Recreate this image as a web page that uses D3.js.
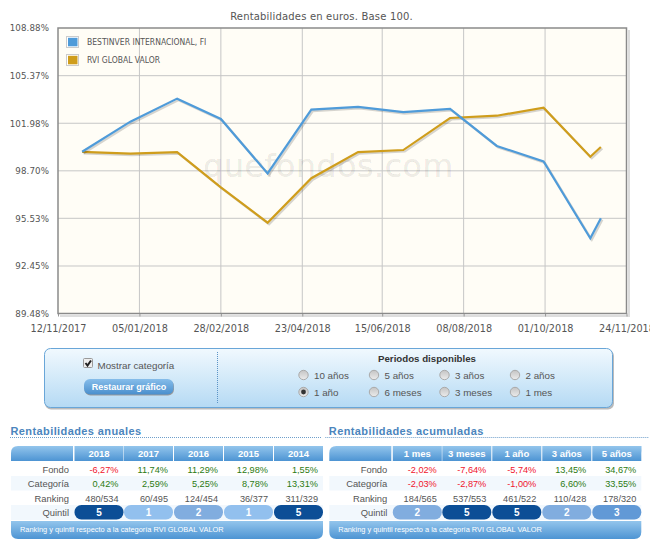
<!DOCTYPE html>
<html>
<head>
<meta charset="utf-8">
<title>Rentabilidades</title>
<script src="https://cdn.jsdelivr.net/npm/d3@7"></script>
<style>
  html, body { margin: 0; padding: 0; background: #fff; overflow: hidden; }
  svg { display: block; }
  text { font-family: "Liberation Sans", Arial, sans-serif; }
  .chart-text { font-family: "DejaVu Sans", sans-serif; fill: #555; }
</style>
</head>
<body>
<div id="chart"></div>
<script>
const WIDTH = 650;
const HEIGHT = 545;

const PLOT = { left: 58, right: 626.5, top: 28, bottom: 313.5 };

// chart data
const dates = ['28/11/2017', '30/12/2017', '30/01/2018', '28/02/2018', '31/03/2018', '29/04/2018',
  '30/05/2018', '29/06/2018', '30/07/2018', '30/08/2018', '30/09/2018', '31/10/2018', '07/11/2018'];
const fondoValues = [100, 102.09, 103.72, 102.28, 98.52, 102.94, 103.13, 102.77, 102.99, 100.40, 99.34, 94.23, 95.53];
const categoriaValues = [100, 99.88, 99.98, 97.59, 95.24, 98.20, 99.98, 100.12, 102.35, 102.51, 103.08, 99.66, 100.33];
const yTicks = [89.48, 92.45, 95.53, 98.70, 101.98, 105.37, 108.88];
const xTicks = ['12/11/2017', '05/01/2018', '28/02/2018', '23/04/2018', '15/06/2018', '08/08/2018', '01/10/2018', '24/11/2018'];
const seriesNames = ['BESTINVER INTERNACIONAL, FI', 'RVI GLOBAL VALOR'];
const seriesColors = ['#4f9bd9', '#cf9d1c'];

// period selector
const periodRow1 = ['10 años', '5 años', '3 años', '2 años'];
const periodRow2 = ['1 año', '6 meses', '3 meses', '1 mes'];

// tables
const rowLabels = ['Fondo', 'Categoría', 'Ranking', 'Quintil'];
const annualHeaders = ['2018', '2017', '2016', '2015', '2014'];
const annualFondo = ['-6,27%', '11,74%', '11,29%', '12,98%', '1,55%'];
const annualCategoria = ['0,42%', '2,59%', '5,25%', '8,78%', '13,31%'];
const annualRanking = ['480/534', '60/495', '124/454', '36/377', '311/329'];
const annualQuintil = [5, 1, 2, 1, 5];
const cumHeaders = ['1 mes', '3 meses', '1 año', '3 años', '5 años'];
const cumFondo = ['-2,02%', '-7,64%', '-5,74%', '13,45%', '34,67%'];
const cumCategoria = ['-2,03%', '-2,87%', '-1,00%', '6,60%', '33,55%'];
const cumRanking = ['184/565', '537/553', '461/522', '110/428', '178/320'];
const cumQuintil = [2, 5, 5, 2, 3];
const quintilColors = { 1: '#92c0ee', 2: '#81addf', 3: '#6199d6', 4: '#2f74ba', 5: '#0c4e96' };

const parseDate = d3.timeParse('%d/%m/%Y');
const formatDate = d3.timeFormat('%d/%m/%Y');

const svg = d3.select('#chart').append('svg')
  .attr('width', WIDTH)
  .attr('height', HEIGHT);

const defs = svg.append('defs');

function addGradient(id, top, bottom) {
  const g = defs.append('linearGradient').attr('id', id)
    .attr('x1', 0).attr('y1', 0).attr('x2', 0).attr('y2', 1);
  g.append('stop').attr('offset', '0%').attr('stop-color', top);
  g.append('stop').attr('offset', '100%').attr('stop-color', bottom);
}
addGradient('panelFill', '#f1f9fe', '#b5daf4');
addGradient('buttonFill', '#86bdea', '#4a8fcd');
addGradient('headFill', '#93c5ec', '#4d94d3');
addGradient('radioFill', '#c4c4c4', '#ececec');

const x = d3.scaleTime()
  .domain([parseDate(xTicks[0]), parseDate(xTicks[xTicks.length - 1])])
  .range([PLOT.left, PLOT.right]);

// the axis is logarithmic: the labels keep a constant ratio
const y = d3.scaleLog()
  .domain([yTicks[0], yTicks[yTicks.length - 1]])
  .range([PLOT.bottom, PLOT.top]);

function drawChart() {
  svg.append('text')
    .attr('class', 'chart-text')
    .attr('x', 321.5)
    .attr('y', 20)
    .attr('text-anchor', 'middle')
    .style('font-size', '10px')
    .style('letter-spacing', '0.18px')
    .text('Rentabilidades en euros. Base 100.');

  // border shadow
  svg.append('path')
    .attr('d', `M${PLOT.left + 2},${PLOT.bottom + 2.5}H${PLOT.right + 2.5}V${PLOT.top + 2}`)
    .attr('fill', 'none')
    .attr('stroke', '#ddd')
    .attr('stroke-width', 2);

  svg.append('rect')
    .attr('x', PLOT.left)
    .attr('y', PLOT.top)
    .attr('width', PLOT.right - PLOT.left)
    .attr('height', PLOT.bottom - PLOT.top)
    .attr('fill', '#fffdf6');

  const xAxis = svg.append('g')
    .attr('transform', `translate(0, ${PLOT.bottom})`)
    .call(d3.axisBottom(x)
      .tickValues(xTicks.map(parseDate))
      .tickFormat(formatDate)
      .tickSize(3)
      .tickPadding(9));
  xAxis.select('.domain').remove();
  xAxis.selectAll('line').attr('stroke', '#999');
  xAxis.selectAll('text')
    .attr('class', 'chart-text')
    .attr('fill', null)
    .style('font-size', '9.7px');

  const yAxis = svg.append('g')
    .attr('transform', `translate(${PLOT.left}, 0)`)
    .call(d3.axisLeft(y)
      .tickValues(yTicks)
      .tickFormat(d => d.toFixed(2) + '%')
      .tickSize(0)
      .tickPadding(9));
  yAxis.select('.domain').remove();
  yAxis.selectAll('text')
    .attr('class', 'chart-text')
    .attr('fill', null)
    .style('font-size', '8.7px')
    .style('letter-spacing', '0.1px');

  const grid = svg.append('g').attr('id', 'grid');
  grid.selectAll('line.v').data(xTicks.slice(1, -1).map(parseDate)).join('line')
    .attr('class', 'v')
    .attr('x1', d => x(d)).attr('x2', d => x(d))
    .attr('y1', PLOT.top).attr('y2', PLOT.bottom)
    .attr('stroke', '#c6c6c6');
  grid.selectAll('line.h').data(yTicks.slice(1, -1)).join('line')
    .attr('class', 'h')
    .attr('x1', PLOT.left).attr('x2', PLOT.right)
    .attr('y1', d => y(d)).attr('y2', d => y(d))
    .attr('stroke', '#c6c6c6');

  // watermark
  svg.append('text')
    .attr('x', 328.5)
    .attr('y', 177)
    .attr('text-anchor', 'middle')
    .attr('fill', '#000')
    .attr('fill-opacity', 0.08)
    .attr('stroke', '#000')
    .attr('stroke-opacity', 0.05)
    .attr('stroke-width', 0.7)
    .style('font-family', '"DejaVu Sans", sans-serif')
    .style('font-size', '31.5px')
    .style('letter-spacing', '0.6px')
    .text('quefondos.com');

  svg.append('rect')
    .attr('x', PLOT.left)
    .attr('y', PLOT.top)
    .attr('width', PLOT.right - PLOT.left)
    .attr('height', PLOT.bottom - PLOT.top)
    .attr('fill', 'none')
    .attr('stroke', '#8a8a8a')
    .attr('stroke-width', 1.5);

  const line = d3.line()
    .x(d => x(d.date))
    .y(d => y(d.value));

  [categoriaValues, fondoValues].forEach((values, i) => {
    const points = values.map((value, j) => ({ date: parseDate(dates[j]), value }));
    const color = i === 0 ? seriesColors[1] : seriesColors[0];
    svg.append('path')
      .attr('d', line(points))
      .attr('transform', 'translate(1.5, 1.5)')
      .attr('fill', 'none')
      .attr('stroke', '#000')
      .attr('stroke-opacity', 0.16)
      .attr('stroke-width', 2.2);
    svg.append('path')
      .attr('d', line(points))
      .attr('fill', 'none')
      .attr('stroke', color)
      .attr('stroke-width', 2.2);
  });

  const legend = svg.append('g').attr('id', 'legend');
  const items = legend.selectAll('g').data(seriesNames).join('g')
    .attr('transform', (d, i) => `translate(66, ${36 + i * 18})`);
  items.append('rect')
    .attr('x', 0.5).attr('y', 0.5)
    .attr('width', 12).attr('height', 11)
    .attr('fill', '#fff')
    .attr('stroke', '#ccc');
  items.append('rect')
    .attr('x', 2).attr('y', 1.8)
    .attr('width', 9.5).attr('height', 8.5)
    .attr('fill', (d, i) => seriesColors[i]);
  items.append('text')
    .attr('class', 'chart-text')
    .attr('x', 21)
    .attr('y', 8.7)
    .style('font-family', '"DejaVu Sans Condensed", "DejaVu Sans", sans-serif')
    .style('font-size', '8.5px')
    .text(d => d);
}

function drawPanel() {
  const panel = svg.append('g').attr('id', 'panel');
  panel.append('rect')
    .attr('x', 45).attr('y', 350)
    .attr('width', 569).attr('height', 59.5)
    .attr('rx', 6)
    .attr('fill', '#bbb');
  panel.append('rect')
    .attr('x', 44.5).attr('y', 348.5)
    .attr('width', 568).attr('height', 59)
    .attr('rx', 6)
    .attr('fill', 'url(#panelFill)')
    .attr('stroke', '#69a6d8');
  panel.append('line')
    .attr('x1', 217.5).attr('x2', 217.5)
    .attr('y1', 352).attr('y2', 404)
    .attr('stroke', '#5b93c6')
    .attr('stroke-dasharray', '1,1');

  // checkbox
  panel.append('rect')
    .attr('x', 83.5).attr('y', 358.5)
    .attr('width', 9).attr('height', 9)
    .attr('rx', 1)
    .attr('fill', '#eee')
    .attr('stroke', '#999');
  panel.append('path')
    .attr('d', 'M85.5,363 L87.5,365.5 L91,360.5')
    .attr('fill', 'none')
    .attr('stroke', '#222')
    .attr('stroke-width', 2);
  panel.append('text')
    .attr('x', 97.5).attr('y', 369)
    .attr('fill', '#555')
    .style('font-size', '9.8px')
    .text('Mostrar categoría');

  // button
  panel.append('rect')
    .attr('x', 84.5).attr('y', 380)
    .attr('width', 89.5).attr('height', 15.5)
    .attr('rx', 6)
    .attr('fill', '#999');
  panel.append('rect')
    .attr('x', 84).attr('y', 379)
    .attr('width', 89.5).attr('height', 15.5)
    .attr('rx', 6)
    .attr('fill', 'url(#buttonFill)');
  panel.append('text')
    .attr('x', 129).attr('y', 390)
    .attr('text-anchor', 'middle')
    .attr('fill', '#fff')
    .style('font-size', '9px')
    .style('font-weight', 'bold')
    .text('Restaurar gráfico');

  panel.append('text')
    .attr('x', 427).attr('y', 361.5)
    .attr('text-anchor', 'middle')
    .attr('fill', '#333')
    .style('font-size', '9.7px')
    .style('font-weight', 'bold')
    .text('Periodos disponibles');

  const columns = [303.5, 374, 444.5, 515];
  [periodRow1, periodRow2].forEach((labels, row) => {
    const cy = 375 + row * 17;
    const radios = panel.append('g').selectAll('g').data(labels).join('g')
      .attr('transform', (d, i) => `translate(${columns[i]}, ${cy})`);
    radios.append('circle')
      .attr('r', 4.7)
      .attr('fill', 'url(#radioFill)')
      .attr('stroke', '#aaa');
    radios.filter(d => d === '1 año').append('circle')
      .attr('r', 2.4)
      .attr('fill', '#333');
    radios.append('text')
      .attr('x', 10.5)
      .attr('y', 3.6)
      .attr('fill', '#555')
      .style('font-size', '9.8px')
      .text(d => d);
  });
}

function valueColor(text) {
  return text.startsWith('-') ? '#f0142d' : '#2c7a12';
}

function drawTable(offset, title, underlineStart, underlineEnd, headers, fondo, categoria, ranking, quintil) {
  const table = svg.append('g')
    .attr('class', 'table')
    .attr('transform', `translate(${offset}, 0)`);
  const colX = [74.5, 124, 174, 224, 274];
  const colW = 49;
  const rowY = [469, 483.5, 498.5];

  table.append('text')
    .attr('x', 10.5).attr('y', 435)
    .attr('fill', '#4b85bd')
    .style('font-size', '11px')
    .style('font-weight', 'bold')
    .style('letter-spacing', '0.4px')
    .text(title);
  table.append('line')
    .attr('x1', underlineStart).attr('x2', underlineEnd)
    .attr('y1', 437.5).attr('y2', 437.5)
    .attr('stroke', '#6f9fcb')
    .attr('stroke-dasharray', '1,1');

  // header
  table.append('path')
    .attr('d', 'M11,461 V453 Q11,446 18,446 H73 V461 Z')
    .attr('fill', 'url(#headFill)');
  table.selectAll('rect.head').data(headers).join('rect')
    .attr('class', 'head')
    .attr('x', (d, i) => colX[i]).attr('y', 446)
    .attr('width', colW).attr('height', 15)
    .attr('fill', 'url(#headFill)');
  table.append('path')
    .attr('d', 'M323,461 V446 H316 Q323,446 323,453 Z')
    .attr('fill', 'url(#headFill)');
  table.selectAll('text.head').data(headers).join('text')
    .attr('class', 'head')
    .attr('x', (d, i) => colX[i] + colW / 2).attr('y', 457)
    .attr('text-anchor', 'middle')
    .attr('fill', '#fff')
    .style('font-size', '9.5px')
    .style('font-weight', 'bold')
    .text(d => d);

  // shaded rows
  table.append('rect')
    .attr('x', 11).attr('y', 476).attr('width', 312).attr('height', 14.5)
    .attr('fill', '#f2f8fd');
  table.append('rect')
    .attr('x', 11).attr('y', 505).attr('width', 312).attr('height', 15)
    .attr('fill', '#f2f8fd');

  table.selectAll('text.label').data(rowLabels).join('text')
    .attr('class', 'label')
    .attr('x', 69).attr('y', (d, i) => (i < 3 ? rowY[i] : 512.5) + 3.5)
    .attr('text-anchor', 'end')
    .attr('fill', '#555')
    .style('font-size', '9.4px')
    .text(d => d);

  [fondo, categoria, ranking].forEach((values, row) => {
    table.append('g').selectAll('text').data(values).join('text')
      .attr('x', (d, i) => colX[i] + colW - 5)
      .attr('y', rowY[row] + 3.5)
      .attr('text-anchor', 'end')
      .attr('fill', d => (row === 2 ? '#555' : valueColor(d)))
      .style('font-size', '9.2px')
      .text(d => d);
  });

  // quintil pills
  table.selectAll('rect.pill').data(quintil).join('rect')
    .attr('class', 'pill')
    .attr('x', (d, i) => colX[i]).attr('y', 505)
    .attr('width', colW).attr('height', 14.5)
    .attr('rx', 7)
    .attr('fill', d => quintilColors[d]);
  table.selectAll('text.pill').data(quintil).join('text')
    .attr('class', 'pill')
    .attr('x', (d, i) => colX[i] + colW / 2).attr('y', 516)
    .attr('text-anchor', 'middle')
    .attr('fill', '#fff')
    .style('font-size', '10px')
    .style('font-weight', 'bold')
    .text(d => d);

  // footer
  table.append('path')
    .attr('d', 'M11,521 H323 V532 Q323,539 316,539 H18 Q11,539 11,532 Z')
    .attr('fill', 'url(#headFill)');
  table.append('text')
    .attr('x', 20).attr('y', 532)
    .attr('fill', '#fff')
    .style('font-size', '7.4px')
    .text('Ranking y quintil respecto a la categoría RVI GLOBAL VALOR');
}

drawChart();
drawPanel();
drawTable(0, 'Rentabilidades anuales', 10, 321, annualHeaders, annualFondo, annualCategoria, annualRanking, annualQuintil);
drawTable(318.3, 'Rentabilidades acumuladas', 7, 330, cumHeaders, cumFondo, cumCategoria, cumRanking, cumQuintil);
</script>
</body>
</html>
